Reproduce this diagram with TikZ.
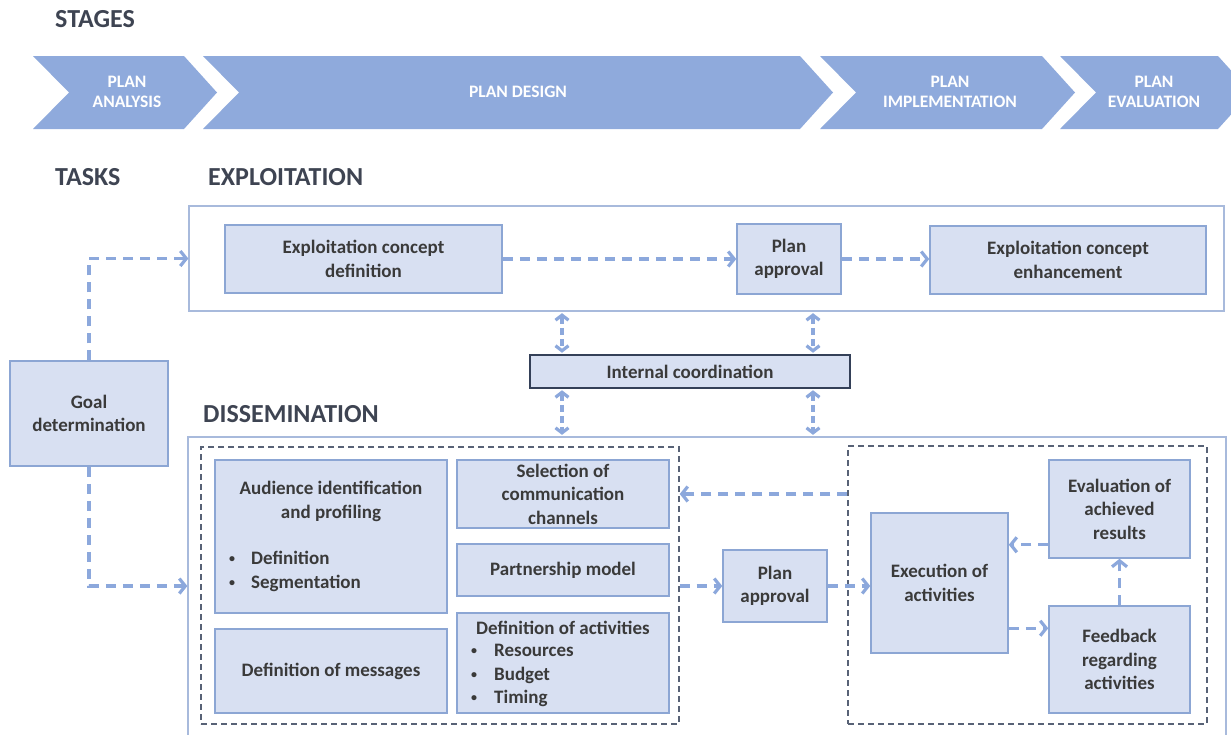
\documentclass[tikz,border=0pt]{standalone}
\usepackage{fontspec}
\setmainfont{Carlito}
\usetikzlibrary{arrows.meta,calc}
\definecolor{chev}{RGB}{143,170,220}
\definecolor{boxfill}{RGB}{216,224,242}
\definecolor{boxline}{RGB}{140,166,212}
\definecolor{outline}{RGB}{168,186,220}
\definecolor{arrowc}{RGB}{140,168,220}
\definecolor{dashc}{RGB}{88,98,118}
\definecolor{txtc}{RGB}{58,58,58}
\definecolor{headc}{RGB}{62,68,82}
\definecolor{icline}{RGB}{52,64,88}
\newcommand\chevshape[2]{\fill[chev] (#1,56) -- (#2,56) -- ({#2+33},92.5) -- (#2,129) -- (#1,129) -- ({#1+36},92.5) -- cycle;}
\newcommand\bx[6]{\node[box, minimum width={#4-#2}, minimum height={#5-#3}] (#1) at ({(#2+#4)/2},{(#3+#5)/2}) {#6};}
\newcommand\blt{{\fontsize{12}{12}\selectfont\raisebox{2pt}{•}}}
\begin{document}
\begin{tikzpicture}[x=1pt,y=-1pt,
  box/.style={draw=boxline, fill=boxfill, line width=1.5pt, inner sep=0pt, align=center, text=txtc,
    font=\fontsize{19}{23.5}\selectfont\bfseries},
  txt/.style={inner sep=0pt, align=center, text=txtc, font=\fontsize{19}{23.5}\selectfont\bfseries},
  stagetxt/.style={inner sep=0pt, align=center, text=white, font=\fontsize{17.5}{20}\selectfont\bfseries},
  head/.style={inner sep=0pt, anchor=west, text=headc, font=\fontsize{26}{28}\selectfont\bfseries},
  container/.style={draw=outline, line width=1.3pt, inner sep=0pt},
  dbox/.style={draw=dashc, line width=1.4pt, dash pattern=on 6pt off 4pt, inner sep=0pt},
  flow/.style={draw=arrowc, line width=3.2pt, dash pattern=on 10pt off 7pt,
    -{Straight Barb[length=6pt,width=15pt]}},
  biflow/.style={draw=arrowc, line width=3.2pt, dash pattern=on 7pt off 4pt,
    {Straight Barb[length=5pt,width=13pt]}-{Straight Barb[length=5pt,width=13pt]}, shorten <=1.5pt, shorten >=1.5pt}
]
\useasboundingbox (0,0) rectangle (1231,734);
\clip (0,0) rectangle (1231,734);

% stages
\node[head] (stages) at (55,19) {STAGES};
\chevshape{33}{184}
\chevshape{203}{800}
\chevshape{820}{1042}
\chevshape{1060}{1218}
\node[stagetxt] (s1) at (127,92) {PLAN\\ANALYSIS};
\node[stagetxt] (s2) at (518,92) {PLAN DESIGN};
\node[stagetxt] (s3) at (950,92) {PLAN\\IMPLEMENTATION};
\node[stagetxt] (s4) at (1154,92) {PLAN\\EVALUATION};

% headings
\node[head] (tasks) at (55,177) {TASKS};
\node[head] (exph) at (208,177) {EXPLOITATION};
\node[head] (dish) at (203,414) {DISSEMINATION};

% containers
\node[container, minimum width=1035, minimum height=105] (expout) at (706.5,258.5) {};
\node[container, minimum width=1038, minimum height=308] (disbox) at (707,591) {};
\node[dbox, minimum width=478, minimum height=277] (ldash) at (440,585.5) {};
\node[dbox, minimum width=359, minimum height=278] (rdash) at (1027.5,585) {};

% exploitation
\bx{ecd}{225}{225}{502}{293}{Exploitation concept\\definition}
\bx{pa1}{737}{224}{841}{294}{Plan\\approval}
\bx{ece}{930}{226}{1206}{294}{Exploitation concept\\enhancement}
\bx{goal}{10}{361}{168}{466}{Goal\\determination}
\node[box, draw=icline, minimum width=320, minimum height=33] (ic) at (690,371.5) {Internal coordination};

% dissemination
\bx{aud}{215}{460}{447}{613}{}
\node[txt] (audt) at (331,501.5) {Audience identification\\and profiling};
\node[txt, anchor=west, align=left] (audb) at (229,571.5) {\blt\hspace{16pt}Definition\\\blt\hspace{16pt}Segmentation};
\bx{msg}{215}{629}{447}{713}{Definition of messages}
\bx{sel}{457}{460}{669}{528}{Selection of\\communication\\channels}
\bx{part}{457}{544}{669}{596}{Partnership model}
\bx{act}{457}{613}{669}{713}{}
\node[txt] (actt) at (563,628) {Definition of activities};
\node[txt, anchor=west, align=left] (actb) at (471,675.5) {\blt\hspace{17pt}Resources\\\blt\hspace{17pt}Budget\\\blt\hspace{17pt}Timing};
\bx{pa2}{723}{550}{827}{622}{Plan\\approval}
\bx{exe}{871}{513}{1008}{653}{Execution of\\activities}
\bx{eval}{1049}{460}{1190}{558}{Evaluation of\\achieved\\results}
\bx{fb}{1049}{606}{1190}{713}{Feedback\\regarding\\activities}

% connectors
\draw[flow] (goal.north) |- (expout.west);
\draw[flow] (goal.south) |- (pa2.west -| disbox.west);
\draw[flow] (ecd.east) -- (ecd.east -| pa1.west);
\draw[flow] (pa1.east) -- (pa1.east -| ece.west);
\coordinate (cl) at (562,0);
\coordinate (cr) at (813,0);
\draw[biflow] (cl |- expout.south) -- (cl |- ic.north);
\draw[biflow] (cr |- expout.south) -- (cr |- ic.north);
\draw[biflow] (cl |- ic.south) -- (cl |- disbox.north);
\draw[biflow] (cr |- ic.south) -- (cr |- disbox.north);
\draw[flow] (sel.east -| rdash.west) -- (sel.east -| ldash.east);
\draw[flow] (pa2.west -| ldash.east) -- (pa2.west);
\draw[flow] (pa2.east) -- (pa2.east -| exe.west);
\coordinate (ev) at ($(eval.south west)+(0,-14)$);
\draw[flow] (ev) -- (ev -| exe.east);
\coordinate (fw) at ($(fb.north west)+(0,23)$);
\draw[flow] (fw -| exe.east) -- (fw);
\draw[flow] (fb.north) -- (eval.south);
\end{tikzpicture}
\end{document}
